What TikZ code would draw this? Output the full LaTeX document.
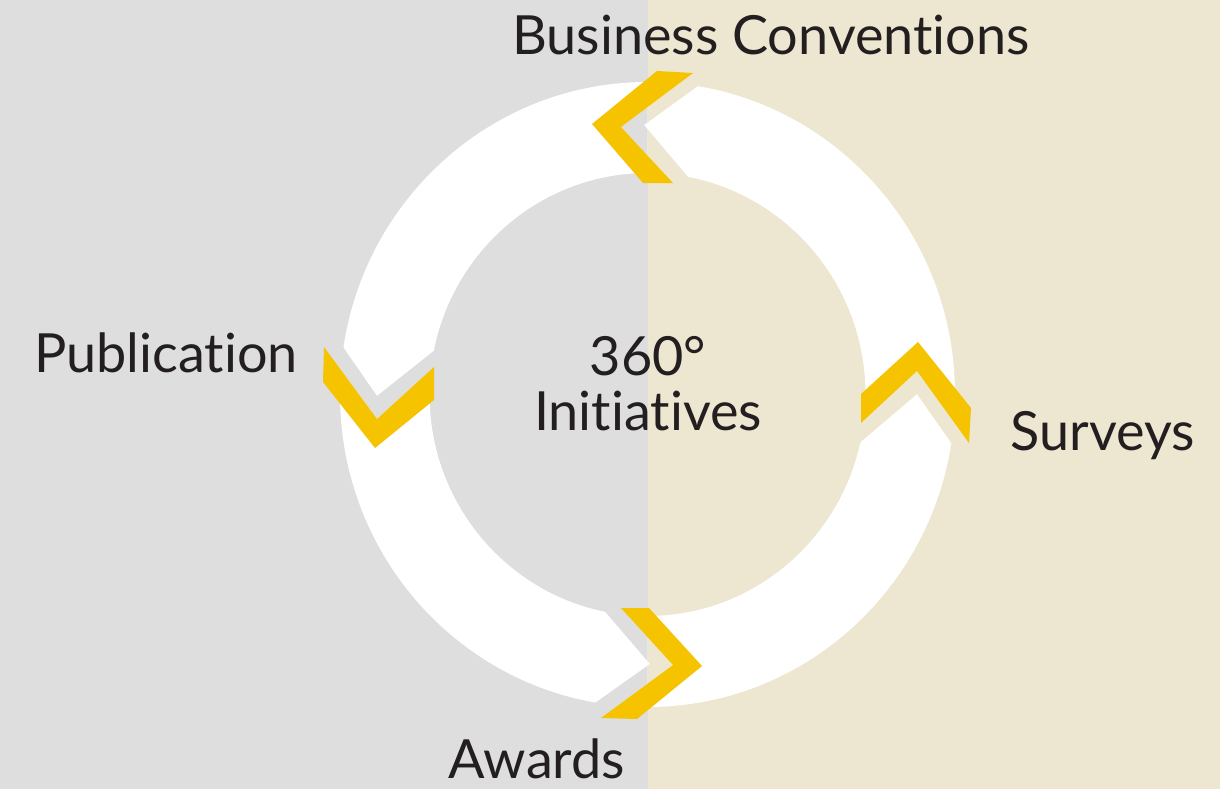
\documentclass[tikz,border=0pt]{standalone}
\usepackage{fontspec}
\setmainfont{Lato}[Ligatures={NoCommon,NoDiscretionary}]
\usetikzlibrary{positioning}
\definecolor{bgleft}{RGB}{222,222,222}
\definecolor{bgright}{RGB}{237,230,208}
\definecolor{arrowyellow}{RGB}{246,195,0}
\definecolor{labeltext}{RGB}{35,31,32}
\tikzset{
  lbl/.style={text=labeltext, font=\fontsize{54}{55}\selectfont, inner sep=0pt, anchor=base},
  chevron/.style={fill=arrowyellow},
}
\begin{document}
\begin{tikzpicture}[x=1pt, y=-1pt]
\useasboundingbox (0,0) rectangle (1220,789);
% background halves
\fill[bgleft] (0,0) rectangle (647.5,789);
\fill[bgright] (647.5,0) rectangle (1220,789);

% ring
\coordinate (c) at (647.5,394.5);
\fill[white, even odd rule] (c) ellipse [x radius=307.5, y radius=312.5]
                            (c) ellipse [x radius=218, y radius=221.5];

% gaps behind the chevrons
\foreach \bg/\xa/\xb in {bgleft/0/647.5, bgright/647.5/1220} {
  \begin{scope}
    \clip (\xa,0) rectangle (\xb,789);
    \fill[\bg] (693,73) -- (621,127) -- (673,183) -- (699,190) -- (644,125) -- (720,70) -- cycle;
    \fill[\bg] (324,347) -- (377,419) -- (440,362) -- (445,342) -- (377,396) -- (327,324) -- cycle;
    \fill[\bg] (850,433) -- (917,371) -- (980,458) -- (971,471) -- (917,394) -- (850,451) -- cycle;
    \fill[\bg] (614,600) -- (673,665) -- (590,726) -- (578,715) -- (650,664) -- (596,601) -- cycle;
  \end{scope}
}

% chevrons
\fill[chevron] (657,71) -- (693,73) -- (621,127) -- (673,183) -- (643,183) -- (592,124) -- cycle;
\fill[chevron] (324,347) -- (377,419) -- (434,367) -- (434,400) -- (375,448) -- (323,382) -- cycle;
\fill[chevron] (861,394) -- (918,342) -- (971,408) -- (969,443) -- (917,371) -- (861,423) -- cycle;
\fill[chevron] (621,608) -- (649,608) -- (702,666) -- (637,719) -- (601,718) -- (673,665) -- cycle;

% labels
\node[lbl] (conv) at (771,55) {Business Conventions};
\node[lbl] (pub) at (166,372) {Publication};
\node[lbl] (surv) at (1103,450) {Surveys};
\node[lbl] (awd) at (537,778) {Awards};
\node[lbl] (deg) at (648,375) {360°};
\node[lbl] (init) at (648,430) {Initiatives};
\end{tikzpicture}
\end{document}
